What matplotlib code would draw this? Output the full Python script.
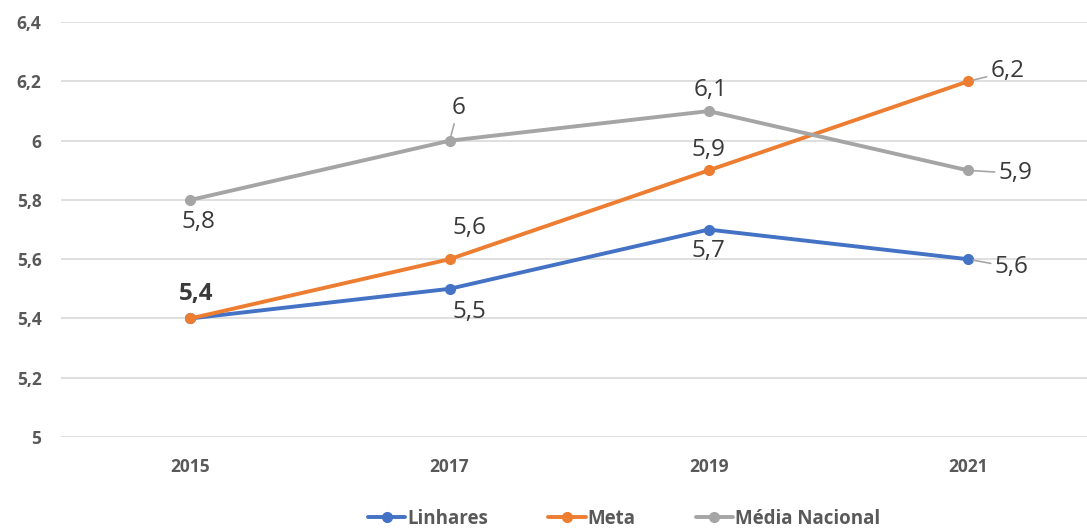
import matplotlib.pyplot as plt

# chart data
years = ['2015', '2017', '2019', '2021']
linhares = [5.4, 5.5, 5.7, 5.6]
meta = [5.4, 5.6, 5.9, 6.2]
media_nacional = [5.8, 6.0, 6.1, 5.9]
y_ticks = [5.0, 5.2, 5.4, 5.6, 5.8, 6.0, 6.2, 6.4]

colors = {'Linhares': '#4472C4', 'Meta': '#ED7D31', 'Média Nacional': '#A5A5A5'}
series = {'Linhares': linhares, 'Meta': meta, 'Média Nacional': media_nacional}

# label offsets in pixels (dx, dy), leader line flag, bold flag
label_pos = {
    'Linhares': [(0, 0, False, False), (20, -23, False, False), (0, -21, False, False), (44, -8, True, False)],
    'Meta': [(6, 24, False, True), (20, 31, False, False), (0, 20, False, False), (40, 10, True, False)],
    'Média Nacional': [(8, -22, False, False), (9, 33, True, False), (2, 21, False, False), (48, -3, True, False)],
}

def fmt(v):
    s = f'{v:.1f}'.rstrip('0').rstrip('.')
    return s.replace('.', ',')

plt.rcParams['font.family'] = ['Open Sans', 'DejaVu Sans']

fig = plt.figure(figsize=(10.87, 5.29), dpi=100)
ax = fig.add_axes([0.056, 0.174, 0.944, 0.784])

x = list(range(len(years)))
for name, vals in series.items():
    ax.plot(x, vals, color=colors[name], lw=2.8, marker='o', ms=7,
            label=name, solid_capstyle='round', zorder=3)

pt = 0.72  # px -> points at dpi 100
for name, vals in series.items():
    for i, v in enumerate(vals):
        dx, dy, leader, bold = label_pos[name][i]
        if name == 'Linhares' and i == 0:
            continue
        kw = {}
        if leader:
            kw['arrowprops'] = dict(arrowstyle='-', color='#A6A6A6', lw=1.2,
                                    shrinkA=1, shrinkB=4)
        ax.annotate(fmt(v), (i, v), xytext=(dx * pt, dy * pt), textcoords='offset points',
                    ha='center', va='center', fontsize=17.5, color='#3A3A3A',
                    fontweight='bold' if bold else 'normal', zorder=4, **kw)

ax.set_xlim(-0.5, 3.46)
ax.set_ylim(5.0, 6.4)
ax.set_yticks(y_ticks)
ax.set_yticklabels([fmt(t) for t in y_ticks])
ax.set_xticks(x)
ax.set_xticklabels(years)
ax.grid(axis='y', color='#D9D9D9', lw=1.2)
ax.set_axisbelow(True)
for s in ax.spines.values():
    s.set_visible(False)
ax.tick_params(length=0, labelsize=12.5, labelcolor='#595959')
ax.tick_params(axis='y', pad=14)
ax.tick_params(axis='x', pad=15)
for lab in ax.get_xticklabels() + ax.get_yticklabels():
    lab.set_fontweight('bold')

leg = fig.legend(loc='center', bbox_to_anchor=(624 / 1087, 1 - 519 / 529), ncol=3,
                 frameon=False, handlelength=2.0, columnspacing=3.2, handletextpad=0.1,
                 prop={'size': 13.5, 'weight': 'bold'})
for t in leg.get_texts():
    t.set_color('#595959')

fig.savefig('out.png', dpi=100)
